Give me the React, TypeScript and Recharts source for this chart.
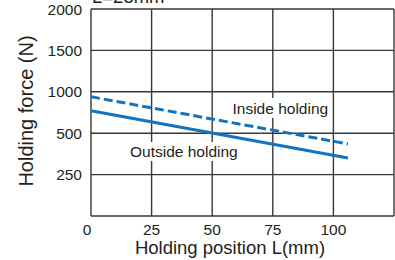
import React from 'react';
import { LineChart, Line, XAxis, YAxis, CartesianGrid } from 'recharts';

// holding position L (mm) at the two ends of each line
const positionL = [0, 106];
// holding force (N)
const insideHolding = [940, 435];
const outsideHolding = [770, 350];

const xTicks = [0, 25, 50, 75, 100, 125];
const xTickLabels = ['0', '25', '50', '75', '100', ''];
const yTickValues = [0, 250, 500, 1000, 1500, 2000];
const yTickLabels = ['', '250', '500', '1000', '1500', '2000'];

// the force axis is stepped: 250 N per division up to 500, then 500 N per division
const toAxis = (v: number) => (v <= 500 ? v / 250 : 2 + (v - 500) / 500);

const ink = '#231f20';
const blue = '#1274c0';
const font = '"Liberation Sans", Arial, sans-serif';

const data = positionL.map((l, i) => ({
    L: l,
    inside: toAxis(insideHolding[i]),
    outside: toAxis(outsideHolding[i])
}));

const yTicks = yTickValues.map(toAxis);

const XTick = (props: any) => {
    const { x, y, payload, index } = props;
    const label = xTickLabels[xTicks.indexOf(payload.value)] ?? '';
    return (
        <text
            x={x + (payload.value === 0 ? -4 : 0)}
            y={y}
            dy={10.5}
            textAnchor="middle"
            fill={ink}
            fontSize={15.5}
            key={index}
        >
            {label}
        </text>
    );
};

export default function App() {
    return (
        <div
            style={{
                position: 'absolute',
                left: 0,
                top: 0,
                width: 395,
                height: 260,
                background: '#fff',
                fontFamily: font
            }}
        >
            <LineChart width={395} height={260} data={data} margin={{ top: 9, right: 1, bottom: 0, left: 0 }}>
                <CartesianGrid stroke="#3b3636" strokeWidth={1.4} />
                <XAxis
                    dataKey="L"
                    type="number"
                    domain={[0, 125]}
                    ticks={xTicks}
                    interval={0}
                    height={44}
                    axisLine={false}
                    tickLine={false}
                    tick={<XTick />}
                />
                <YAxis
                    type="number"
                    domain={[0, 5]}
                    ticks={yTicks}
                    interval={0}
                    width={91}
                    axisLine={false}
                    tickLine={false}
                    tickMargin={3}
                    tick={{ fill: ink, fontSize: 15.5 }}
                    tickFormatter={(v: number) => yTickLabels[yTicks.indexOf(v)] ?? ''}
                />
                <Line
                    dataKey="inside"
                    stroke={blue}
                    strokeWidth={3}
                    strokeDasharray="9 4"
                    dot={false}
                    isAnimationActive={false}
                />
                <Line
                    dataKey="outside"
                    stroke={blue}
                    strokeWidth={3}
                    dot={false}
                    isAnimationActive={false}
                />
            </LineChart>
            <svg
                width={395}
                height={260}
                style={{ position: 'absolute', left: 0, top: 0, pointerEvents: 'none' }}
            >
                <text x={92} y={2.5} fontSize={18.5} fill={ink}>L=25mm</text>
                <rect x={230} y={98} width={101} height={20} fill="#fff" />
                <text x={232.5} y={114} fontSize={15.5} fill={ink}>Inside holding</text>
                <rect x={127} y={142} width={116} height={19} fill="#fff" />
                <text x={130} y={156.5} fontSize={15.5} fill={ink}>Outside holding</text>
                <text x={230} y={253.5} fontSize={18.5} fill={ink} textAnchor="middle">
                    Holding position L(mm)
                </text>
                <text transform="translate(33,111) rotate(-90)" fontSize={20} fill={ink} textAnchor="middle">
                    Holding force (N)
                </text>
            </svg>
        </div>
    );
}
